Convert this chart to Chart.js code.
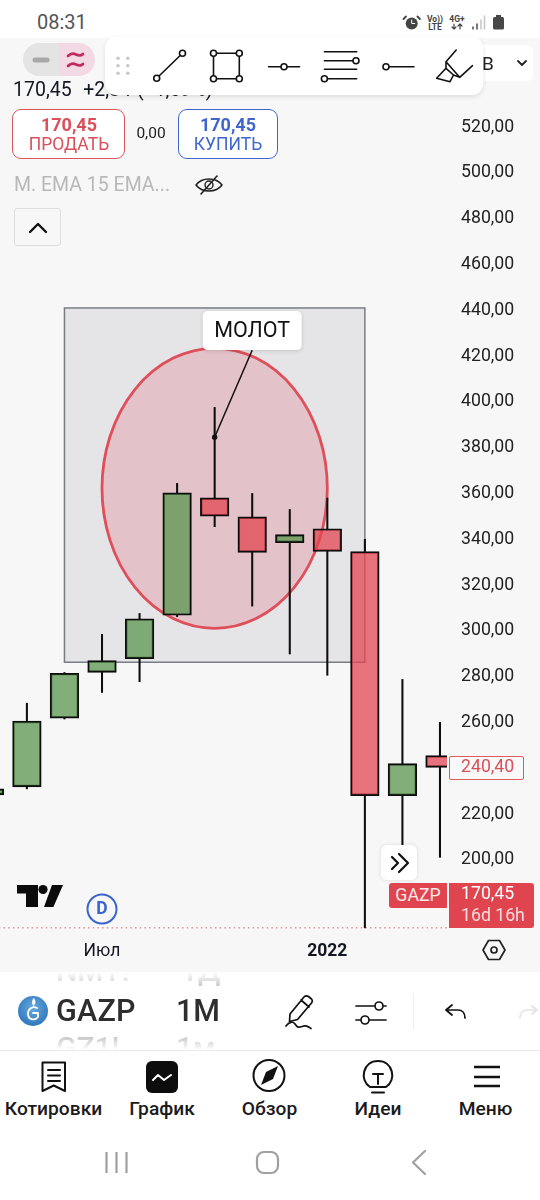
<!DOCTYPE html>
<html lang="ru">
<head>
<meta charset="utf-8">
<script src="https://cdn.jsdelivr.net/npm/chart.js@4"></script>
<style>
html,body{margin:0;padding:0;background:#fff;width:540px;height:1200px;overflow:hidden;font-family:Roboto,sans-serif;color:#131722}
#page{position:relative;width:540px;height:1200px;overflow:hidden;background:#fff}
#chartBox{position:absolute;left:0;top:38px;width:540px;height:934px;background:#f7f7f7}
canvas{display:block}
.t{position:absolute;white-space:nowrap;line-height:1;transform:translateY(-50%)}
.c{transform:translate(-50%,-50%)}
.box{position:absolute;box-sizing:border-box}
#overlay{position:absolute;left:0;top:0}
</style>
</head>
<body>
<div id="page">
  <div id="chartBox"><canvas id="chart" width="540" height="934"></canvas></div>

  <div class="t" style="left:37px;top:22px;font-size:20px;color:#555">08:31</div>
  <div class="t c" style="left:435px;top:18.5px;font-size:8.5px;font-weight:700;color:#444">Vo))</div>
  <div class="t c" style="left:435px;top:27px;font-size:8.5px;font-weight:700;color:#444">LTE</div>
  <div class="t c" style="left:457px;top:18.5px;font-size:8.5px;font-weight:700;color:#444">4G+</div>

  <div class="box" style="left:23px;top:43px;width:36px;height:33px;background:#e4e4e4;border-radius:17px 0 0 17px"></div>
  <div class="box" style="left:59px;top:43px;width:36px;height:33px;background:#f3d9e3;border-radius:0 17px 17px 0"></div>
  <div class="box" style="left:483px;top:45px;width:50px;height:36px;background:#fff;border-radius:0 6px 6px 0"></div>
  <div class="t" style="left:482px;top:63px;font-size:19px;color:#222">В</div>

  <div class="t" style="left:13px;top:90px;font-size:19.5px;word-spacing:1px">170,45&nbsp; +2,84 (+1,69%)</div>

  <div class="box" style="left:12px;top:109px;width:113px;height:50px;border:1.5px solid #d9565e;border-radius:9px;background:#fff"></div>
  <div class="t c" style="left:69px;top:125px;font-size:18px;font-weight:700;color:#d9505a">170,45</div>
  <div class="t c" style="left:69px;top:145px;font-size:17.5px;color:#d9505a">ПРОДАТЬ</div>
  <div class="t c" style="left:151px;top:134px;font-size:15.5px;color:#222">0,00</div>
  <div class="box" style="left:178px;top:109px;width:100px;height:50px;border:1.5px solid #3f66cc;border-radius:9px;background:#fff"></div>
  <div class="t c" style="left:228px;top:125px;font-size:18px;font-weight:700;color:#3f66cc">170,45</div>
  <div class="t c" style="left:228px;top:145px;font-size:17.5px;color:#3f66cc">КУПИТЬ</div>
  <div class="t" style="left:14px;top:185px;font-size:19.5px;color:#b8b8b8">М. EMA 15 EMA...</div>
  <div class="box" style="left:14px;top:208px;width:47px;height:38px;border:1.5px solid #dedede;border-radius:3px"></div>

  <div class="box" style="left:448.5px;top:755.5px;width:75px;height:24.5px;border:1.2px solid #dc5a63;background:#f9f9f9;border-radius:2px"></div>
  <div class="t" style="left:461px;top:767px;font-size:17.7px;color:#d9505a">240,40</div>
  <div class="box" style="left:389px;top:883px;width:58px;height:25px;background:#e0454f;border-radius:3px 0 0 3px"></div>
  <div class="t c" style="left:418px;top:895.5px;font-size:17.7px;color:#fbe9ea">GAZP</div>
  <div class="box" style="left:449px;top:883px;width:85px;height:45px;background:#e0454f;border-radius:0 3px 3px 0"></div>
  <div class="t" style="left:461px;top:894px;font-size:17.7px;color:#fff">170,45</div>
  <div class="t" style="left:461px;top:915.5px;font-size:17.7px;color:#fbdcde">16d 16h</div>
  <div class="box" style="left:381px;top:845px;width:36px;height:35px;background:#fff;border-radius:6px;box-shadow:0 0 4px rgba(0,0,0,.12)"></div>

  <div class="t c" style="left:102px;top:909px;font-size:17.5px;font-weight:700;color:#3a63d0">D</div>

  <div class="box" style="left:0;top:972px;width:540px;height:78px;overflow:hidden;background:#fff">
    <div class="t" style="left:56px;top:-1px;font-size:30px;font-weight:500;color:#999">NMT!</div>
    <div class="t" style="left:181px;top:-1px;font-size:30px;font-weight:500;color:#999">ТД</div>
    <div class="t" style="left:56px;top:39px;font-size:30.5px;font-weight:500;color:#2e2e2e;letter-spacing:.2px">GAZP</div>
    <div class="t" style="left:176px;top:39px;font-size:30.5px;font-weight:500;color:#2e2e2e">1M</div>
    <div class="t" style="left:56px;top:76px;font-size:30px;font-weight:500;color:#999">GZ1!</div>
    <div class="t" style="left:176px;top:76px;font-size:30px;font-weight:500;color:#999">1м</div>
    <div class="box" style="left:0;top:0;width:540px;height:18px;background:linear-gradient(#fff,rgba(255,255,255,.35))"></div>
    <div class="box" style="left:0;top:62px;width:540px;height:16px;background:linear-gradient(rgba(255,255,255,.35),#fff)"></div>
  </div>
  <div class="box" style="left:0;top:1050px;width:540px;height:1px;background:#ececec"></div>
  <div class="box" style="left:413px;top:993px;width:1px;height:36px;background:#eee"></div>

  <div class="t c" style="left:53.5px;top:1109px;font-size:19.2px;font-weight:500;color:#1b1b1b">Котировки</div>
  <div class="t c" style="left:162px;top:1109px;font-size:19.2px;font-weight:500;color:#1b1b1b">График</div>
  <div class="t c" style="left:269.5px;top:1109px;font-size:19.2px;font-weight:500;color:#1b1b1b">Обзор</div>
  <div class="t c" style="left:378px;top:1109px;font-size:19.2px;font-weight:500;color:#1b1b1b">Идеи</div>
  <div class="t c" style="left:485.5px;top:1109px;font-size:19.2px;font-weight:500;color:#1b1b1b">Меню</div>

  <div class="box" style="left:105px;top:37px;width:378px;height:58px;background:#fff;border-radius:11px;box-shadow:0 2px 5px rgba(0,0,0,.1)"></div>

  <svg id="overlay" width="540" height="1200" viewBox="0 0 540 1200" fill="none" stroke-linecap="round" stroke-linejoin="round">
    <defs><radialGradient id="gz" cx="50%" cy="40%" r="60%"><stop offset="0" stop-color="#6aa9dc"/><stop offset="1" stop-color="#2f78bd"/></radialGradient></defs>
    <!-- status icons -->
    <circle cx="411.700" cy="23.500" r="6" fill="#444"/><path d="M411.700 20v3.500h3" stroke="#fff" stroke-width="1"/><path d="M406 16.500l-2.500 2.500M417.400 16.500l2.500 2.500" stroke="#444" stroke-width="1.800"/>
    <path d="M454 24v5M452 27l2 2 2-2M460 29v-5M458 26l2-2 2 2" stroke="#444" stroke-width="1.200"/>
    <path d="M473 29v-2M477 29v-5" stroke="#555" stroke-width="1.600"/><path d="M481 29v-9M484.500 29v-13" stroke="#c8c8c8" stroke-width="1.600"/>
    <rect x="493" y="17" width="11" height="12.500" rx="1.500" fill="#484848"/><rect x="496" y="15" width="5" height="2" fill="#484848"/>
    <!-- pill -->
    <path d="M35 60h12" stroke="#a8a8a8" stroke-width="5"/>
    <path d="M68 56c3-3 5-3 8-1.500s5 1.500 7-.5M68 66c3-3 5-3 8-1.500s5 1.500 7-.5" stroke="#c2295f" stroke-width="2.600"/>
    <!-- dropdown / up -->
    <path d="M518 61l4 4 4-4" stroke="#222" stroke-width="1.800"/>
    <path d="M30 232l8-8 8 8" stroke="#111" stroke-width="2.400"/>
    <!-- eye -->
    <path d="M196 185c6-8 20-8 26 0c-6 8-20 8-26 0z" stroke="#222" stroke-width="1.600"/><circle cx="209" cy="185" r="4" stroke="#222" stroke-width="1.400"/><path d="M201 194l16-18" stroke="#222" stroke-width="1.600"/>
    <!-- toolbar -->
    <g fill="#c8c8c8"><circle cx="118" cy="58.300" r="1.800"/><circle cx="127.800" cy="58.300" r="1.800"/><circle cx="118" cy="65.800" r="1.800"/><circle cx="127.800" cy="65.800" r="1.800"/><circle cx="118" cy="73.300" r="1.800"/><circle cx="127.800" cy="73.300" r="1.800"/></g>
    <g stroke="#111" stroke-width="1.600">
      <path d="M156.700 78.300L182.500 53.300"/>
      <path d="M213.500 53.300H239.300V78.700H213.500Z"/>
      <path d="M268.600 66.700H299.600"/>
      <path d="M324.400 51.700H356.700M324.400 60.700H356.700M324.400 69.300H356.700M324.400 78.700H356.700"/>
      <path d="M386 66.700H414"/>
      <path d="M456.200 50L446 61.700V68.300L453.500 75L459.700 77.300L472.500 65.700M446 61.700L459.700 77.300M446 68.300L436.600 78.300L450 81.700L453.500 75"/>
      <g fill="#fff"><circle cx="156.700" cy="78.300" r="3"/><circle cx="182.500" cy="53.300" r="3"/>
      <circle cx="213.500" cy="53.300" r="3"/><circle cx="239.300" cy="53.300" r="3"/><circle cx="213.500" cy="78.700" r="3"/><circle cx="239.300" cy="78.700" r="3"/>
      <circle cx="284" cy="66.700" r="3"/><circle cx="356" cy="60.700" r="3"/><circle cx="324.400" cy="78.700" r="3"/><circle cx="386" cy="66.700" r="3"/></g>
    </g>
    <!-- chevrons -->
    <path d="M392 857l6 6-6 6M399 854l9 9-9 9" stroke="#111" stroke-width="2.200"/>
    <!-- TV logo -->
    <path d="M17 885H38V907H26V893.500H17Z" fill="#0b0b0b"/><circle cx="43" cy="889.500" r="4.600" fill="#0b0b0b"/><path d="M52 885H63L53.400 907H44Z" fill="#0b0b0b"/>
    <circle cx="102" cy="909" r="14.500" stroke="#3a63d0" stroke-width="2"/>
    <!-- hexagon -->
    <path d="M483 950l5.500-9.500h11l5.500 9.500-5.500 9.500h-11z" stroke="#222" stroke-width="1.700"/><circle cx="494" cy="950" r="3" stroke="#222" stroke-width="1.700"/>
    <!-- gazprom logo -->
    <circle cx="33" cy="1011" r="15" fill="url(#gz)"/><path d="M37 1008c-4-2-9 0-9 6s7 7 10 3v-4h-5" stroke="#fff" stroke-width="1.800"/><path d="M33.500 998c3 3 2 6 0 8c-2-2-2-5 0-8z" fill="#fff"/>
    <!-- tool row -->
    <g stroke="#111" stroke-width="1.700">
      <path d="M290 1014l14-17c1.500-1.500 3-1.500 4.500-.5l3 2.500c1 1 1 2.500 0 4l-14 16.500-8 2zM301 1000l8 7"/>
      <path d="M286 1026c3-4 7-5 9-2s3 4 7 2.500s6 0 9 2"/>
      <path d="M356 1006h18M384 1006h2M356 1020h4M370 1020h16"/><circle cx="379" cy="1006" r="4"/><circle cx="365" cy="1020" r="4"/>
      <path d="M446 1010l6-5M446 1010l6 5M447 1010h11c4 0 7 3 7 8"/>
    </g>
    <path d="M520 1018c0-5 3-8 7-8h10M537 1010l-5-4M537 1010l-5 4" stroke="#e4e4e4" stroke-width="1.700"/>
    <!-- nav icons -->
    <g stroke="#111" stroke-width="2">
      <path d="M42.500 1062.500H65V1091L53.700 1085.500L42.500 1091Z"/><path d="M48 1070H60M48 1075.500H60M48 1081H60"/>
    </g>
    <rect x="146" y="1061" width="32" height="32" rx="6" fill="#0d0d0d"/><path d="M153 1080l5-5 6 5 7-5" stroke="#fff" stroke-width="2"/>
    <circle cx="269" cy="1075.500" r="15.500" stroke="#111" stroke-width="2"/><path d="M261 1085l5-13 12-6-5 13z" fill="#111"/>
    <g stroke="#111" stroke-width="2">
      <path d="M370 1087c-11-7-7-26 8-26s19 19 8 26z"/><path d="M372 1092.500h12"/><path d="M373 1074h10M378 1074v10"/>
    </g>
    <path d="M474 1067h26M474 1077h26M474 1086h26" stroke="#111" stroke-width="2.500" stroke-linecap="butt"/>
    <!-- system nav -->
    <g stroke="#a0a0a0" stroke-width="2.200">
      <path d="M106.500 1152v21M116.500 1152v21M126.500 1152v21" stroke-linecap="butt"/>
      <rect x="257" y="1152" width="21" height="21" rx="7"/>
      <path d="M425 1151l-12 11.500 12 11.500"/>
    </g>
  </svg>
</div>

<script>
// month index: 0 = Apr 2021 ... 12 = Apr 2022
const months = [0,1,2,3,4,5,6,7,8,9,10,11,12];
const opens  = [227.6,231.1,261.1,281.1,287.0,306.0,357.3,349.0,337.7,343.8,333.8,227.2,244.7];
const closes = [230.2,259.8,280.7,286.2,304.5,359.5,349.3,333.5,341.2,333.9,227.2,241.2,239.6];
const highs  = [230.2,267.6,281.0,297.7,306.8,363.6,396.8,359.2,352.2,357.2,339.2,278.0,259.3];
const lows   = [227.6,230.2,260.7,272.3,277.0,305.4,344.7,310.0,289.1,279.8,169.5,205.0,200.3];
const priceLevel = [169.6,169.6];
const priceLineX = [0,13];
const yTickValues = [200,220,240,260,280,300,320,340,360,380,400,420,440,460,480,500,520];
const xTickValues = [3,9];
const xTickLabels = ['Июл','2022'];
const calloutText = 'МОЛОТ';
const rectMonths = [2,10];
const rectPrices = [285.5,440.2];
const ellipseMonths = [3,9];
const ellipsePrices = [300.3,422.6];
const calloutAnchor = [6,383.8];
const calloutBoxMonth = 7;
const calloutBoxPrices = [421.8,438.9];

const GREEN='rgba(90,150,79,0.75)', RED='rgba(227,70,83,0.75)', INK='#0d0d0d';

const annotations = {
  id:'annotations',
  beforeDatasetsDraw(chart){
    const {ctx,chartArea:a,scales:{x,y}} = chart;
    ctx.save();
    ctx.beginPath();ctx.rect(a.left,a.top,a.right-a.left,a.bottom-a.top);ctx.clip();
    const rx0=x.getPixelForValue(rectMonths[0]),rx1=x.getPixelForValue(rectMonths[1]);
    const ry0=y.getPixelForValue(rectPrices[1]),ry1=y.getPixelForValue(rectPrices[0]);
    ctx.fillStyle='rgba(120,123,134,0.14)';ctx.fillRect(rx0,ry0,rx1-rx0,ry1-ry0);
    ctx.strokeStyle='#7a7c85';ctx.lineWidth=1.5;ctx.strokeRect(rx0,ry0,rx1-rx0,ry1-ry0);
    const ex0=x.getPixelForValue(ellipseMonths[0]),ex1=x.getPixelForValue(ellipseMonths[1]);
    const ey0=y.getPixelForValue(ellipsePrices[1]),ey1=y.getPixelForValue(ellipsePrices[0]);
    ctx.beginPath();ctx.ellipse((ex0+ex1)/2,(ey0+ey1)/2,(ex1-ex0)/2,(ey1-ey0)/2,0,0,Math.PI*2);
    ctx.fillStyle='rgba(222,60,80,0.2)';ctx.fill();
    ctx.strokeStyle='#de4f5a';ctx.lineWidth=2.8;ctx.stroke();
    ctx.restore();
  },
  afterDatasetsDraw(chart){
    const {ctx,scales:{x,y}} = chart;
    ctx.save();
    const cx=x.getPixelForValue(calloutBoxMonth);
    const by0=y.getPixelForValue(calloutBoxPrices[1]),by1=y.getPixelForValue(calloutBoxPrices[0]);
    const ax=x.getPixelForValue(calloutAnchor[0]),ay=y.getPixelForValue(calloutAnchor[1]);
    ctx.strokeStyle='#111';ctx.lineWidth=1.4;
    ctx.beginPath();ctx.moveTo(cx,by1);ctx.lineTo(ax,ay);ctx.stroke();
    ctx.fillStyle='#111';ctx.beginPath();ctx.arc(ax,ay,2.7,0,Math.PI*2);ctx.fill();
    ctx.save();
    ctx.shadowColor='rgba(0,0,0,.15)';ctx.shadowBlur=4;ctx.shadowOffsetY=1;
    ctx.fillStyle='#fff';ctx.beginPath();ctx.roundRect(cx-49.5,by0,99,by1-by0,5);ctx.fill();
    ctx.restore();
    ctx.fillStyle='#131313';ctx.font='21.5px Roboto';ctx.textAlign='center';ctx.textBaseline='middle';
    ctx.fillText(calloutText,cx,(by0+by1)/2+1.5);
    ctx.restore();
  }
};

new Chart(document.getElementById('chart'),{
  type:'bar',
  data:{datasets:[
    {type:'line',data:priceLineX.map((m,i)=>({x:m,y:priceLevel[i]})),borderColor:'#dd9aa1',borderWidth:1.5,
     borderDash:[1.5,3.2],pointRadius:0,clip:0,order:3},
    {label:'body',data:months.map((m,i)=>({x:m,y:[opens[i],closes[i]]})),grouped:false,barThickness:28.6,
     backgroundColor:months.map((m,i)=>closes[i]>=opens[i]?GREEN:RED),borderColor:INK,borderWidth:1.8,
     borderSkipped:false,clip:0,order:1},
    {label:'upper wick',data:months.map((m,i)=>({x:m,y:[Math.max(opens[i],closes[i]),highs[i]]})),grouped:false,barThickness:1.4,
     backgroundColor:INK,borderWidth:0,clip:0,order:2},
    {label:'lower wick',data:months.map((m,i)=>({x:m,y:[lows[i],Math.min(opens[i],closes[i])]})),grouped:false,barThickness:1.4,
     backgroundColor:INK,borderWidth:0,clip:0,order:2}
  ]},
  plugins:[annotations],
  options:{
    responsive:false,animation:false,
    layout:{padding:0},
    plugins:{legend:{display:false},tooltip:{enabled:false}},
    scales:{
      x:{type:'linear',offset:false,min:0.2836,max:12.187,
         grid:{display:false,drawTicks:false},border:{display:false},
         afterBuildTicks:s=>{s.ticks=xTickValues.map(v=>({value:v}));},
         afterFit:s=>{s.height=43;s.paddingLeft=0;s.paddingRight=0;},
         ticks:{autoSkip:false,maxRotation:0,padding:12.5,color:'#131722',
           callback:v=>xTickLabels[xTickValues.indexOf(v)],
           font:c=>({family:'Roboto',size:17.5,weight:c.tick&&c.tick.value===9?'700':'400'})}},
      y:{type:'linear',position:'right',min:169,max:558.1,
         grid:{display:false,drawTicks:false},border:{display:false},
         afterBuildTicks:s=>{s.ticks=yTickValues.map(v=>({value:v}));},
         afterFit:s=>{
           s.width=93;s.paddingTop=0;s.paddingBottom=0;
           if(!s.labelsNudged){
             s.labelsNudged=true;
             const draw=s.drawLabels;
             s.drawLabels=function(area){const c=this.ctx;c.save();c.translate(0,2);draw.call(this,area);c.restore();};
           }
         },
         ticks:{autoSkip:false,padding:14,color:'#222',
           callback:v=>v.toFixed(2).replace('.',','),
           font:{family:'Roboto',size:17.7}}}
    }
  }
});
</script>
</body>
</html>
